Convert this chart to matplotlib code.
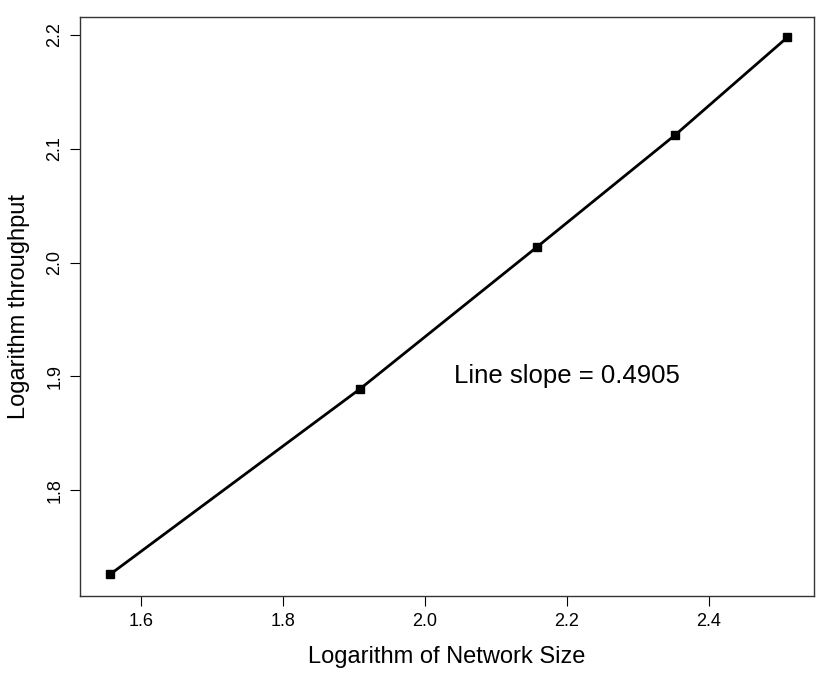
import matplotlib
matplotlib.use("Agg")
import matplotlib.pyplot as plt
import numpy as np

plt.rcParams['font.family'] = ['Liberation Sans', 'DejaVu Sans']

# network sizes 6^2, 9^2, 12^2, 15^2, 18^2 on log10 scale
log_size = np.log10([36, 81, 144, 225, 324])
log_thr = [1.726, 1.889, 2.014, 2.112, 2.198]

x_ticks = [1.6, 1.8, 2.0, 2.2, 2.4]
y_ticks = [1.8, 1.9, 2.0, 2.1, 2.2]

fig = plt.figure(figsize=(8.3, 6.75), dpi=100)
ax = fig.add_axes([0.0964, 0.117, 0.8843, 0.8578])

ax.plot(log_size, log_thr, color='black', lw=2, marker='s', ms=6)
ax.text(2.2, 1.9, "Line slope = 0.4905", fontsize=18.5, ha='center', va='center')

ax.set_xlim(1.514, 2.548)
ax.set_ylim(1.707, 2.2158)
ax.set_xticks(x_ticks)
ax.set_xticklabels([f"{v:.1f}" for v in x_ticks])
ax.set_yticks(y_ticks)
ax.set_yticklabels([f"{v:.1f}" for v in y_ticks], rotation=90, va='center')
ax.tick_params(direction='out', length=7, labelsize=13, pad=5)

for s in ax.spines.values():
    s.set_color('#333333')
    s.set_linewidth(1)

ax.set_xlabel("Logarithm of Network Size", fontsize=17, labelpad=12)
ax.set_ylabel("Logarithm throughput", fontsize=17, labelpad=12)

fig.savefig("out.png", dpi=100)
